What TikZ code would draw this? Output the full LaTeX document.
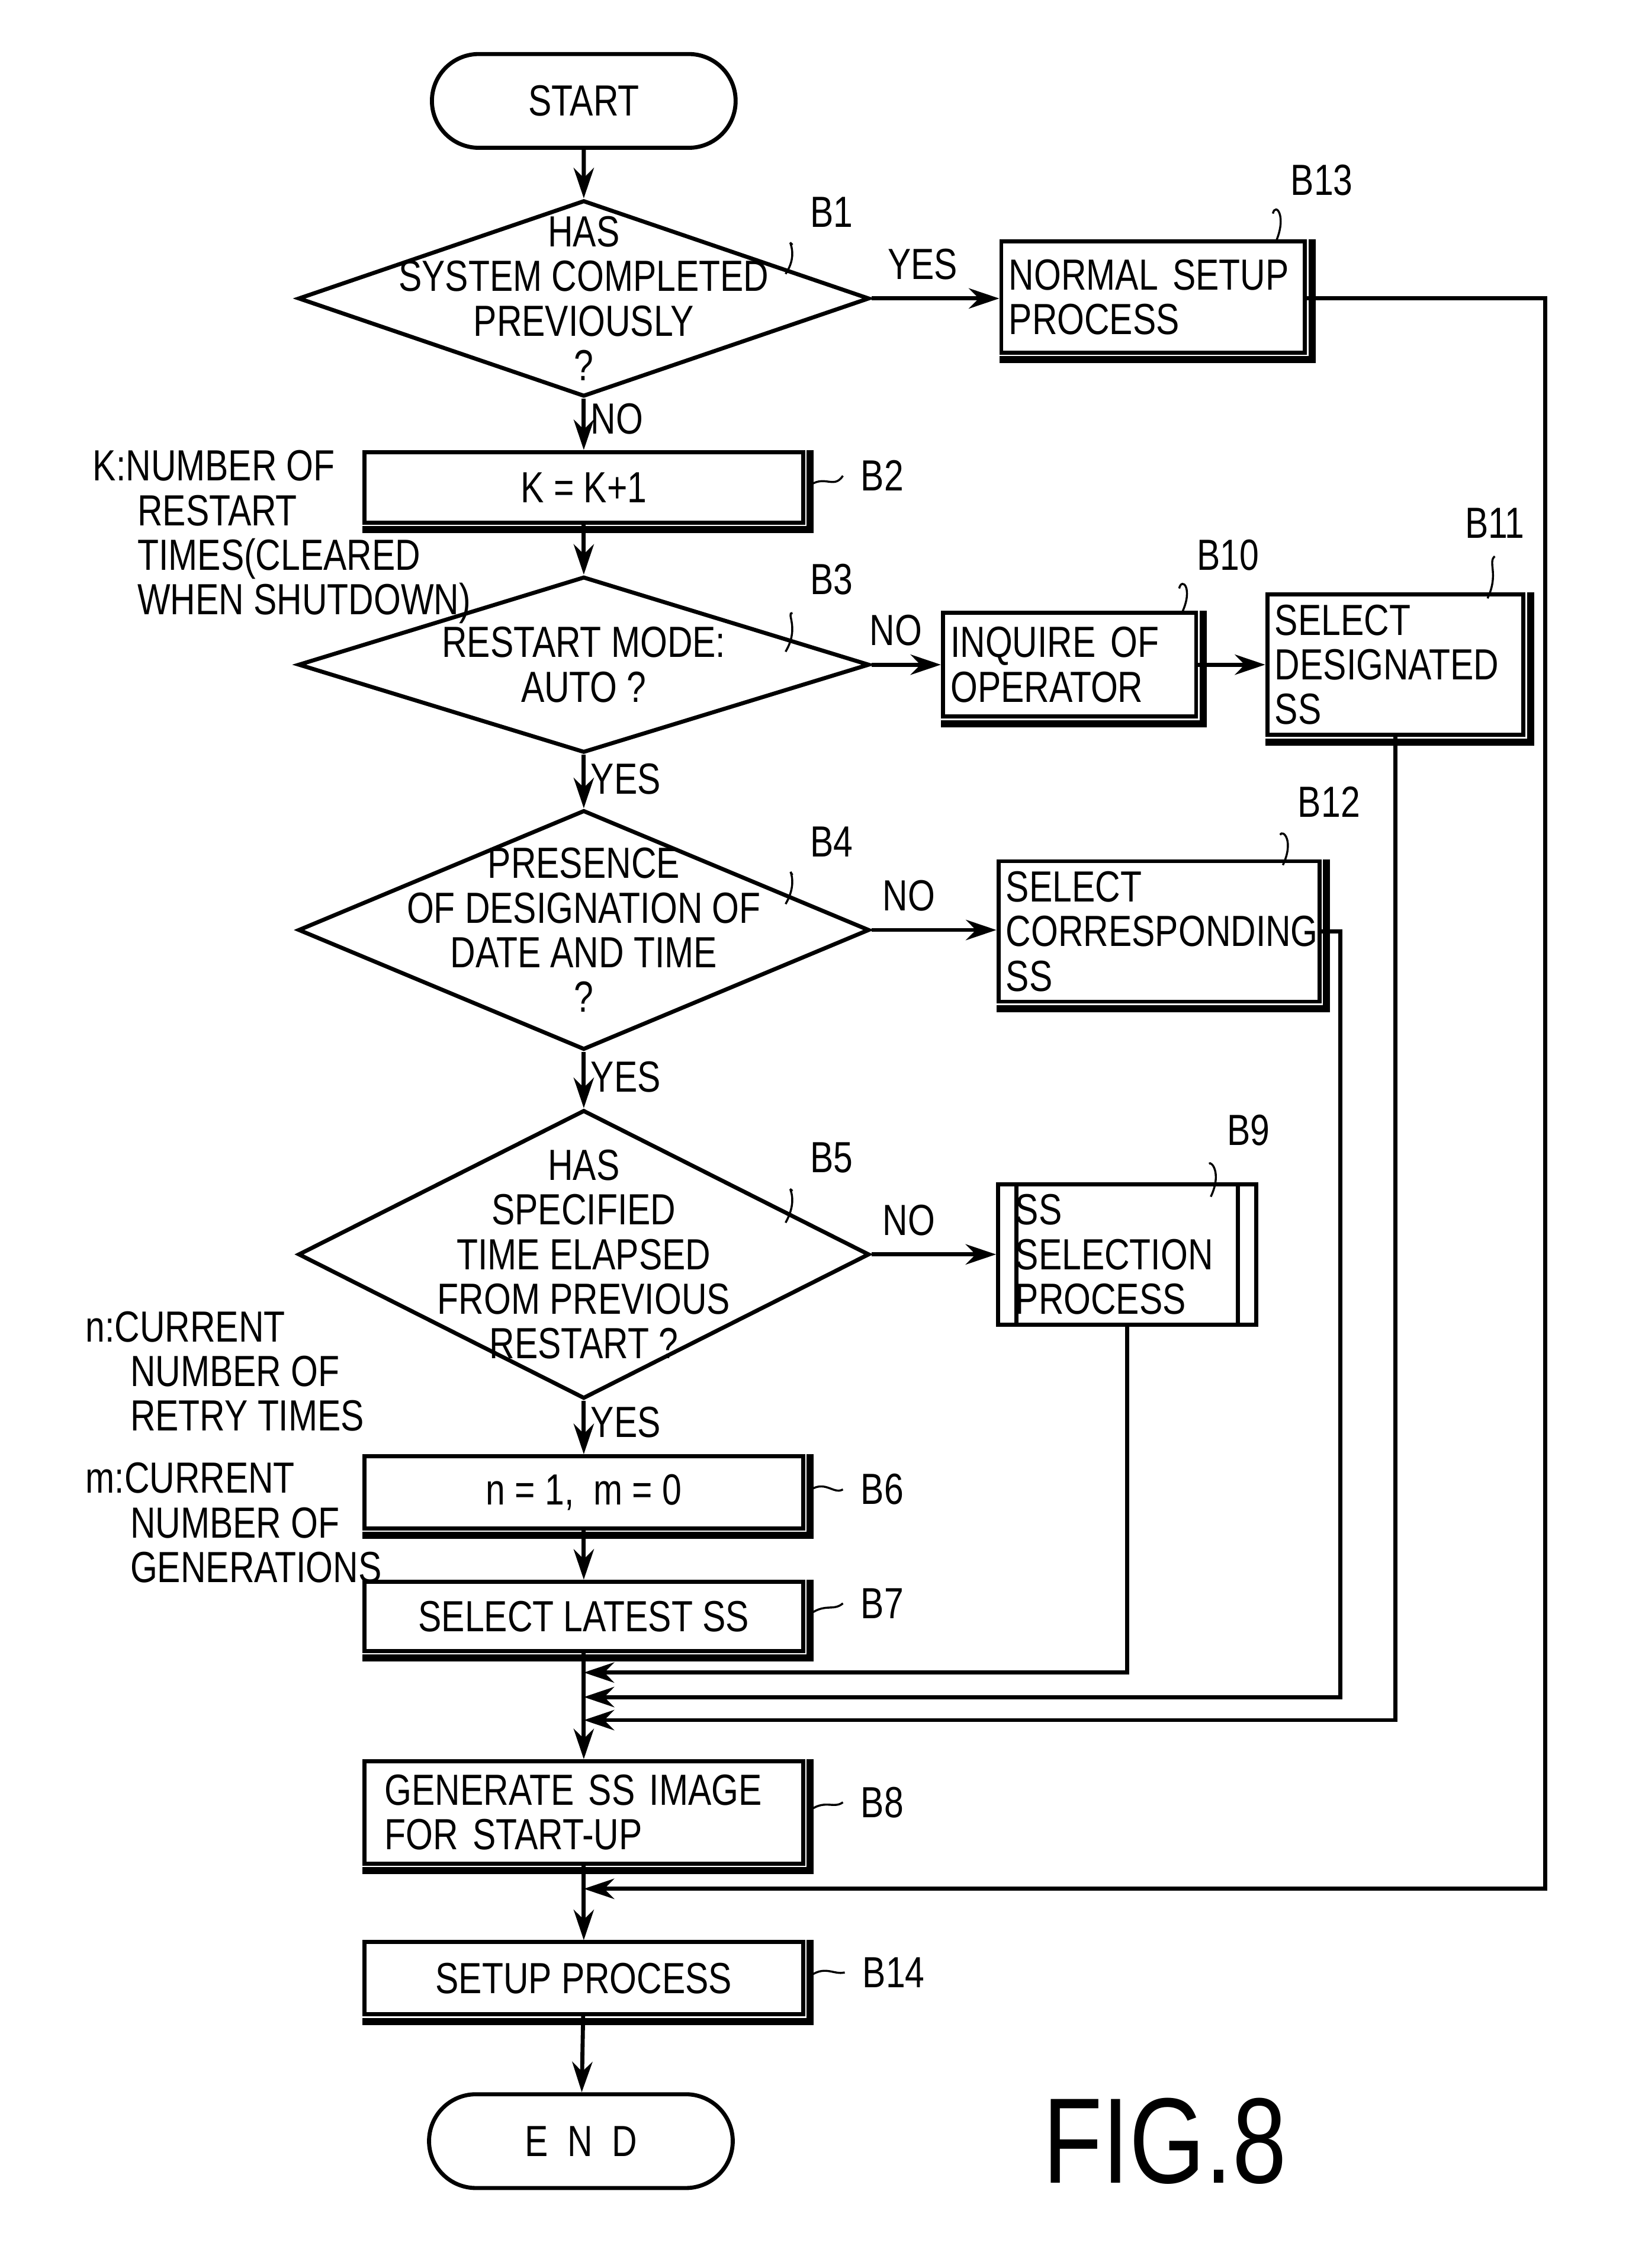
\documentclass[tikz,border=0pt]{standalone}
\usepackage{fontspec}
\setmainfont{Liberation Sans}[FakeStretch=0.8]
\usetikzlibrary{shapes.geometric,shapes.misc,arrows.meta,positioning}
\tikzset{
  every node/.style={font=\fontsize{8.6}{8.8}\selectfont},
  box/.style={draw, thick, rectangle, inner xsep=1.5pt, inner ysep=2pt},
  dia/.style={draw, thick, diamond, inner sep=0pt},
  term/.style={draw, thick, rounded rectangle, minimum width=2.34cm, minimum height=0.65cm},
  flow/.style={thick, -{Stealth[length=6pt,width=4pt]}},
  tag/.style={thin},
}
\begin{document}
\begin{tikzpicture}[x=0.01cm, y=-0.01cm]
\useasboundingbox (0,0) rectangle (1130,1573);

\node[term](start) at (405,70) {START};
\node[dia, minimum width=3.96cm, minimum height=1.36cm, label={[align=center]center:HAS\\SYSTEM COMPLETED\\PREVIOUSLY\\?}](b1) at (405,207) {};
\node[box, minimum width=2.10cm, minimum height=0.77cm, text width=2.0cm, align=left](b13) at (800,206) {NORMAL SETUP\\PROCESS};
\node[box, minimum width=3.04cm, minimum height=0.49cm](b2) at (405,338) {K = K+1};
\node[dia, minimum width=3.96cm, minimum height=1.22cm, label={[align=center]center:RESTART MODE:\\AUTO ?}](b3) at (405,461) {};
\node[box, minimum width=1.75cm, minimum height=0.72cm, text width=1.65cm, align=left](b10) at (742,461) {INQUIRE OF\\OPERATOR};
\node[box, minimum width=1.77cm, minimum height=0.93cm, text width=1.67cm, align=left](b11) at (968,461) {SELECT\\DESIGNATED\\SS};
\node[dia, minimum width=3.96cm, minimum height=1.66cm, label={[align=center]center:PRESENCE\\OF DESIGNATION OF\\DATE AND TIME\\?}](b4) at (405,645) {};
\node[box, minimum width=2.22cm, minimum height=0.92cm, text width=2.12cm, align=left](b12) at (804,646) {SELECT\\CORRESPONDING\\SS};
\node[dia, minimum width=3.96cm, minimum height=2.00cm, label={[align=center]center:HAS\\SPECIFIED\\TIME ELAPSED\\FROM PREVIOUS\\RESTART ?}](b5) at (405,870) {};
\node[box, minimum width=1.79cm, minimum height=0.91cm, text width=1.55cm, align=left](b9) at (782,870) {SS\\SELECTION\\PROCESS};
\node[box, minimum width=3.04cm, minimum height=0.50cm](b6) at (405,1035) {n = 1, \ m = 0};
\node[box, minimum width=3.04cm, minimum height=0.48cm](b7) at (405,1121) {SELECT LATEST SS};
\node[box, minimum width=3.04cm, minimum height=0.71cm, text width=2.76cm, align=left](b8) at (405,1257) {GENERATE SS IMAGE\\FOR START-UP};
\node[box, minimum width=3.04cm, minimum height=0.50cm](b14) at (405,1372) {SETUP PROCESS};
\node[term](end) at (403,1485) {E\ \ N\ \ D};
\node[font=\fontsize{24}{24}\selectfont](fig) at (808,1485) {FIG.8};

% shadows of the boxes
\foreach \n in {b13,b2,b10,b11,b12,b6,b7,b8,b14}
  \draw[line width=1.4pt] ([xshift=1pt]\n.north east) -- ([xshift=1pt,yshift=-1pt]\n.south east) -- ([yshift=-1pt]\n.south west);
\draw[thick] ([xshift=4pt]b9.north west) -- ([xshift=4pt]b9.south west);
\draw[thick] ([xshift=-4pt]b9.north east) -- ([xshift=-4pt]b9.south east);

% notes
\node[align=left, anchor=north west](kn) at (52,300) {K:NUMBER OF\\\hspace*{0.31cm}RESTART\\\hspace*{0.31cm}TIMES(CLEARED\\\hspace*{0.31cm}WHEN SHUTDOWN)};
\node[align=left, anchor=north west](nn) at (47,897) {n:CURRENT\\\hspace*{0.31cm}NUMBER OF\\\hspace*{0.31cm}RETRY TIMES};
\node[align=left, anchor=north west](mn) at (47,1002) {m:CURRENT\\\hspace*{0.31cm}NUMBER OF\\\hspace*{0.31cm}GENERATIONS};

% step tags
\node(t1) at (577,147) {B1};
\node(t13) at (917,125) {B13};
\node(t2) at (612,330) {B2};
\node(t3) at (577,402) {B3};
\node(t10) at (852,385) {B10};
\node(t11) at (1037,363) {B11};
\node(t4) at (577,584) {B4};
\node(t12) at (922,556) {B12};
\node(t5) at (577,803) {B5};
\node(t9) at (866,784) {B9};
\node(t6) at (612,1033) {B6};
\node(t7) at (612,1112) {B7};
\node(t8) at (612,1250) {B8};
\node(t14) at (620,1368) {B14};
\draw[tag] (545,190) .. controls (555,175) and (545,165) .. (t1.south west);
\draw[tag] (885,168) .. controls (893,150) and (885,140) .. (t13.south west);
\draw[tag] (560,338) .. controls (572,328) and (578,340) .. (t2.west);
\draw[tag] (545,452) .. controls (555,435) and (545,425) .. (t3.south west);
\draw[tag] (820,425) .. controls (828,408) and (820,400) .. (t10.south west);
\draw[tag] (1032,415) .. controls (1040,398) and (1032,390) .. (t11.south);
\draw[tag] (545,627) .. controls (555,610) and (545,600) .. (t4.south west);
\draw[tag] (890,600) .. controls (898,583) and (890,575) .. (t12.south west);
\draw[tag] (545,848) .. controls (555,830) and (545,822) .. (t5.south west);
\draw[tag] (840,830) .. controls (848,813) and (840,805) .. (t9.south west);
\draw[tag] (560,1035) .. controls (572,1025) and (578,1037) .. (t6.west);
\draw[tag] (560,1121) .. controls (572,1111) and (578,1118) .. (t7.west);
\draw[tag] (560,1257) .. controls (572,1247) and (578,1255) .. (t8.west);
\draw[tag] (560,1372) .. controls (572,1362) and (578,1370) .. (t14.west);

% merge points
\coordinate (m9) at (405,1160);
\coordinate (m12) at (405,1177);
\coordinate (m11) at (405,1193);
\coordinate (m13) at (405,1310);

% main line
\draw[flow] (start) -- (b1);
\draw[flow] (b1) -- node[right, pos=0.4, inner sep=1pt]{NO} (b2);
\draw[flow] (b2) -- (b3);
\draw[flow] (b3) -- node[right, pos=0.45, inner sep=1pt]{YES} (b4);
\draw[flow] (b4) -- node[right, pos=0.45, inner sep=1pt]{YES} (b5);
\draw[flow] (b5) -- node[right, pos=0.4, inner sep=1pt]{YES} (b6);
\draw[flow] (b6) -- (b7);
\draw[flow] (b7) -- (b8);
\draw[flow] (b8) -- (b14);
\draw[flow] (b14) -- (end);

% branches
\draw[flow] (b1.east) -- node[above, pos=0.4]{YES} (b13.west |- b1.east);
\draw[flow] (b3.east) -- node[above, pos=0.35]{NO} (b10.west);
\draw[flow] (b10) -- (b11);
\draw[flow] (b4.east) -- node[above, pos=0.3]{NO} (b12.west |- b4.east);
\draw[flow] (b5.east) -- node[above, pos=0.3]{NO} (b9.west);

% returns
\draw[flow] (b13.east |- b1.east) -- (1072,207) |- (m13);
\draw[flow] (b11.south) |- (m11);
\draw[flow] (b12.east) -- (930,646) |- (m12);
\draw[flow] (b9.south) |- (m9);
\end{tikzpicture}
\end{document}
